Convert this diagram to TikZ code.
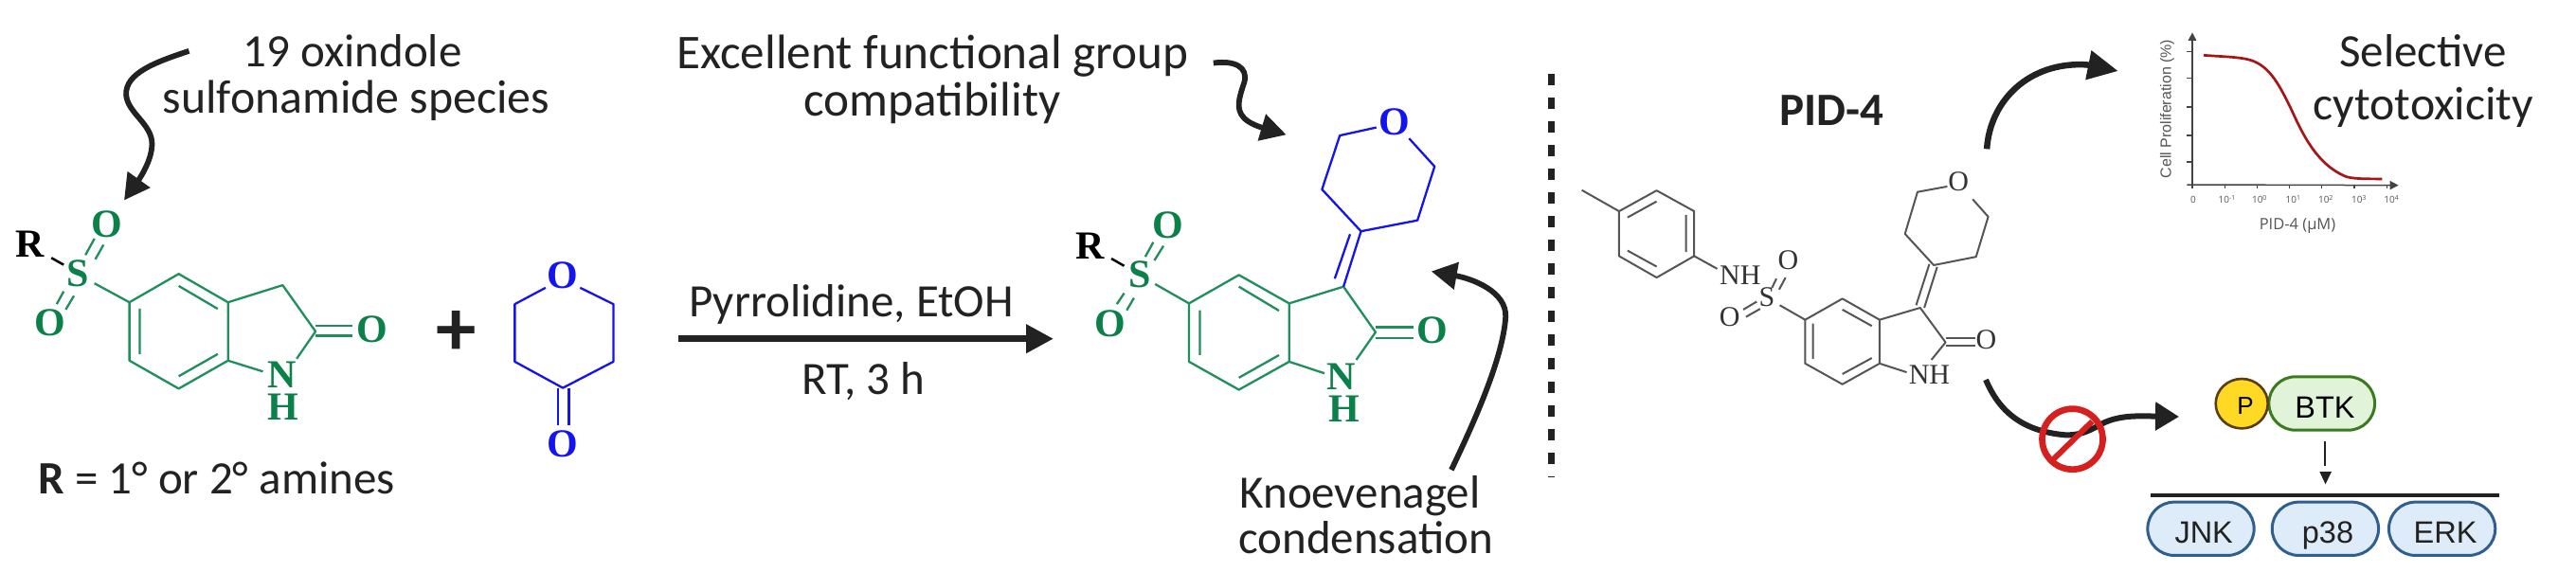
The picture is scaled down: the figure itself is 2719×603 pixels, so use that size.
\documentclass[tikz,border=0pt]{standalone}
\usepackage{fontspec}
\usetikzlibrary{arrows.meta,shapes.geometric}
\setmainfont{Carlito}
\newfontfamily\atomfont{Liberation Serif}
\newfontfamily\plotfont{Liberation Sans}
\newfontfamily\axisfont{Open Sans}
\definecolor{ink}{HTML}{222222}
\definecolor{molgreen}{HTML}{1F8F5C}
\definecolor{atomgreen}{HTML}{0B8048}
\definecolor{molblue}{HTML}{1414EE}
\definecolor{molgray}{HTML}{555555}
\definecolor{atomgray}{HTML}{333333}
\definecolor{plotgray}{HTML}{444444}
\definecolor{labelgray}{HTML}{555555}
\definecolor{curvered}{HTML}{A81518}
\definecolor{stopred}{HTML}{D61F1F}
\definecolor{HTMLpill}{HTML}{2F5F8F}
\definecolor{HTMLpillfill}{HTML}{DEEBF9}
\definecolor{btkline}{HTML}{3B7A1E}
\definecolor{btkfill}{HTML}{E1F4D9}
\definecolor{pline}{HTML}{5A3D10}
\definecolor{pfill}{HTML}{FFD924}
\tikzset{
  cropa/.style={shift={(0,0)},x=0.43365pt,y=-0.3846pt},
  cropc/.style={shift={(1600,0)},x=0.35714pt,y=-0.3846pt},
  cropd/.style={shift={(2080,0)},x=0.4075pt,y=-0.33333pt},
  crope/.style={shift={(2080,300)},x=0.4075pt,y=-0.33333pt},
  cropf/.style={shift={(1100,0)},x=0.3846pt,y=-0.3846pt},
  zoomplot/.style={shift={(2280,0)},x=0.33333pt,y=-0.33333pt},
  zoomstop/.style={shift={(2080,380)},x=0.33333pt,y=-0.33333pt},
  noteline/.style={font=\fontsize{49}{49}\selectfont,text=ink,inner sep=0pt,anchor=base},
  notewide/.style={font=\fontsize{51.2}{51.2}\selectfont,text=ink,inner sep=0pt,anchor=base},
  pointer/.style={draw=ink,line width=5.8pt,-{Triangle[length=27pt,width=28pt]}},
  greenbond/.style={draw=molgreen,line width=2.3pt,line join=round},
  bluebond/.style={draw=molblue,line width=2.3pt,line join=round},
  graybond/.style={draw=molgray,line width=2pt,line join=round},
  atomg/.style={font=\fontsize{42}{42}\selectfont\atomfont\bfseries,text=atomgreen,inner sep=0pt},
  atomb/.style={font=\fontsize{42}{42}\selectfont\atomfont\bfseries,text=molblue,inner sep=0pt},
  atomk/.style={font=\fontsize{42}{42}\selectfont\atomfont\bfseries,text=black,inner sep=0pt},
  atomy/.style={font=\fontsize{30}{30}\selectfont\atomfont,text=atomgray,inner sep=0pt},
  axisline/.style={draw=plotgray,line width=1.5pt},
  ticklabel/.style={font=\fontsize{10}{10}\selectfont\axisfont,text=labelgray,inner sep=0pt},
  pillblue/.style={draw=HTMLpill,fill=HTMLpillfill,line width=3pt,minimum width=112.3pt,minimum height=56.3pt,rounded corners=28pt,inner sep=0pt,font=\fontsize{32.5}{32.5}\selectfont\plotfont,text=ink,text height=31pt,text depth=0pt},
}
\begin{document}
\begin{tikzpicture}[x=1pt,y=-1pt]
\useasboundingbox (0,0) rectangle (2719,603);
\fill[white] (0,0) rectangle (2719,603);

% ---------- texts
\node[noteline] (noteA) at (372,70) {19 oxindole};
\node[noteline,font=\fontsize{49.8}{49.8}\selectfont] (noteAb) at (376,119) {sulfonamide species};
\node[notewide] (noteB) at (984.5,72) {Excellent functional group};
\node[notewide] (noteBb) at (984,122) {compatibility};
\node[noteline] (cond) at (898.6,334) {Pyrrolidine, EtOH};
\node[noteline] (time) at (911,416.5) {RT, 3 h};
\node[noteline] (rgroup) at (228.5,521) {\textbf{R} = 1° or 2° amines};
\node[noteline] (noteC) at (1435.5,536) {Knoevenagel};
\node[noteline] (noteCb) at (1441.6,584.6) {condensation};
\node[noteline] (pid) at (1933,132.7) {\textbf{PID-4}};
\node[noteline] (noteD) at (2557.7,70) {Selective};
\node[noteline,font=\fontsize{49.8}{49.8}\selectfont] (noteDb) at (2557.7,126.7) {cytotoxicity};

% ---------- plus and reaction arrow
\node[font=\fontsize{85}{85}\selectfont\bfseries,text=ink,inner sep=0pt] (plus) at (481.8,351.8) {+};
\coordinate (rxnA) at (715.6,357.7);
\coordinate (rxnB) at (1112,357.7);
\draw[draw=ink,line width=7pt,-{Triangle[length=29pt,width=29pt]}] (rxnA) -- (rxnB);

% ---------- starting oxindole
\begin{scope}[cropa]
\node[atomk] (r1) at (72,670) {R};
\node[atomg] (s1) at (190,752) {S};
\node[atomg] (o1a) at (260,615) {O};
\node[atomg] (o1b) at (122,885) {O};
\node[atomg] (o1c) at (905,905) {O};
\node[atomg] (n1) at (686,1030) {N};
\node[atomg] (h1) at (688,1118) {H};
\draw[draw=black,line width=2.5pt] (125,708) -- (155,727);
\draw[greenbond] (230,778) -- (315,830) -- (435,752) -- (555,830) -- (555,990) -- (435,1067) -- (315,990) -- (315,830);
\draw[greenbond] (340,847) -- (340,972) (435,785) -- (530,848) (435,1033) -- (530,972);
\draw[greenbond] (555,830) -- (688,783) -- (768,910) -- (722,985) (555,990) -- (640,1020);
\draw[greenbond] (768,895) -- (858,895) (768,922) -- (858,922);
\draw[greenbond] (208,700) -- (230,655) (232,712) -- (252,672) (138,835) -- (155,800) (160,850) -- (180,812);
\coordinate (arrA1) at (460,140);
\coordinate (arrA2) at (302,550);
\draw[pointer] (arrA1) .. controls (380,170) and (305,200) .. (307,260) .. controls (310,310) and (370,340) .. (370,395) .. controls (370,440) and (340,490) .. (arrA2);
% oxanone
\node[atomb] (o2a) at (1370,757) {O};
\node[atomb] (o2b) at (1370,1220) {O};
\draw[bluebond] (1412,790) -- (1493,835) -- (1493,993) -- (1370,1065) -- (1253,993) -- (1253,835) -- (1328,790);
\draw[bluebond] (1358,1065) -- (1358,1168) (1385,1065) -- (1385,1168);
\end{scope}

% ---------- product
\begin{scope}[cropf]
\node[atomk] (r3) at (132,675) {R};
\node[atomg] (s3) at (268,753) {S};
\node[atomg] (o3a) at (345,618) {O};
\node[atomg] (o3b) at (188,888) {O};
\node[atomg] (o3c) at (1072,908) {O};
\node[atomg] (n3) at (822,1033) {N};
\node[atomg] (h3) at (828,1122) {H};
\node[atomb] (o3d) at (968,335) {O};
\draw[draw=black,line width=2.5pt] (190,710) -- (225,730);
\draw[greenbond] (310,780) -- (403,833) -- (540,755) -- (678,833) -- (678,993) -- (540,1070) -- (403,993) -- (403,833);
\draw[greenbond] (433,852) -- (433,975) (540,787) -- (650,853) (540,1037) -- (650,975);
\draw[greenbond] (678,833) -- (827,787) -- (915,912) -- (862,988) (678,993) -- (775,1025);
\draw[greenbond] (915,898) -- (1018,898) (915,928) -- (1018,928);
\draw[greenbond] (283,705) -- (305,665) (308,715) -- (333,675) (205,835) -- (225,805) (232,852) -- (252,818);
\draw[bluebond] (827,787) -- (875,635) (803,765) -- (845,643);
\draw[bluebond] (917,350) -- (817,372) -- (768,520) -- (875,635) -- (1030,605) -- (1077,457) -- (1007,380);
\coordinate (arrB1) at (470,173);
\coordinate (arrB2) at (670,370);
\draw[pointer] (arrB1) .. controls (530,165) and (565,185) .. (555,225) .. controls (540,270) and (530,300) .. (555,325) .. controls (575,345) and (620,355) .. (arrB2);
\coordinate (arrC1) at (1123,1290);
\coordinate (arrC2) at (1068,745);
\draw[pointer] (arrC1) .. controls (1190,1150) and (1265,980) .. (1272,870) .. controls (1275,800) and (1180,765) .. (arrC2);
\end{scope}

% ---------- divider
\coordinate (divA) at (1637.6,78);
\coordinate (divB) at (1637.6,503.6);
\draw[draw=ink,line width=6.5pt,dash pattern=on 12.4pt off 12.6pt] (divA) -- (divB);

% ---------- PID-4
\begin{scope}[cropc]
\node[atomy] (ny) at (663,755) {NH};
\node[atomy] (sy) at (742,815) {S};
\node[atomy] (oya) at (805,713) {O};
\node[atomy] (oyb) at (632,870) {O};
\node[atomy] (oyc) at (1390,932) {O};
\node[atomy] (nh) at (1222,1028) {NH};
\node[atomy] (oyd) at (1308,498) {O};
\draw[graybond] (195,522) -- (305,580) -- (416,523) -- (527,580) -- (527,703) -- (416,762) -- (305,703) -- (305,580);
\draw[graybond] (330,597) -- (416,553) (503,590) -- (503,692) (330,688) -- (416,732);
\draw[graybond] (527,703) -- (595,738);
\draw[graybond] (757,790) -- (770,765) (778,795) -- (797,762) (672,850) -- (712,828) (680,870) -- (722,848);
\draw[graybond] (780,838) -- (855,878) -- (965,820) -- (1075,878) -- (1075,998) -- (965,1055) -- (855,998) -- (855,878);
\draw[graybond] (878,888) -- (878,985) (965,850) -- (1052,895) (965,1027) -- (1052,983);
\draw[graybond] (1075,878) -- (1195,845) -- (1270,940) -- (1228,988) (1075,998) -- (1155,1022);
\draw[graybond] (1270,928) -- (1358,928) (1270,948) -- (1358,948);
\draw[graybond] (1183,838) -- (1222,725) (1207,845) -- (1245,733);
\draw[graybond] (1275,512) -- (1187,527) -- (1150,642) -- (1235,728) -- (1360,705) -- (1396,595) -- (1350,547);
\end{scope}

% ---------- dose response plot
\begin{scope}[zoomplot]
\coordinate (yO) at (102,585);
\coordinate (yT) at (102,103);
\coordinate (xO) at (85,585);
\coordinate (xT) at (755,587);
\draw[axisline,-{Triangle[length=8.5pt,width=8.5pt]}] (yO) -- (yT);
\draw[axisline,-{Triangle[length=9pt,width=9pt]}] (xO) -- (xT);
\foreach \t in {163,248,339,429,513} \draw[axisline] (85,\t) -- (102,\t);
\foreach \t in {102,205,308,410,512,615,718} \draw[axisline] (\t,585) -- (\t,598);
\node[rotate=90,font=\fontsize{16}{16}\selectfont\plotfont,text=labelgray,inner sep=0pt] (ylab) at (22,345) {Cell Proliferation (\%)};
\node[font=\fontsize{16.5}{16.5}\selectfont\axisfont,text=labelgray,inner sep=0pt] (xlab) at (435,715) {PID-4 (µM)};
\node[ticklabel] (t0) at (105,632) {0};
\node[ticklabel] (t1) at (212,632) {10\textsuperscript{-1}};
\node[ticklabel] (t2) at (315,632) {10\textsuperscript{0}};
\node[ticklabel] (t3) at (422,632) {10\textsuperscript{1}};
\node[ticklabel] (t4) at (525,632) {10\textsuperscript{2}};
\node[ticklabel] (t5) at (630,632) {10\textsuperscript{3}};
\node[ticklabel] (t6) at (733,632) {10\textsuperscript{4}};
\draw[draw=curvered,line width=2.7pt] (138,175) .. controls (190,179) and (250,180) .. (285,190) .. controls (345,208) and (375,265) .. (410,335) .. controls (445,410) and (490,520) .. (590,560) .. controls (620,568) and (660,566) .. (703,567);
\end{scope}
\begin{scope}[cropd]
\coordinate (arrD1) at (42,472);
\coordinate (arrD2) at (382,225);
\draw[pointer,line width=6.5pt,-{Triangle[length=32pt,width=30pt]}] (arrD1) .. controls (50,320) and (150,195) .. (300,205) -- (arrD2);
\end{scope}

% ---------- BTK pathway
\node[draw=btkline,fill=btkfill,line width=3pt,minimum width=111.7pt,minimum height=56.4pt,rounded corners=28pt,inner sep=0pt,font=\fontsize{32.5}{32.5}\selectfont\plotfont,text=black,text height=31.4pt,text depth=0pt] (btk) at (2450.7,426) {\hspace*{6.6pt}BTK};
\node[draw=pline,fill=pfill,line width=2.6pt,ellipse,minimum width=55pt,minimum height=52.4pt,inner sep=0pt,font=\fontsize{26}{26}\selectfont\plotfont,text=black,text height=21.6pt,text depth=0pt] (pcircle) at (2366.2,426.2) {\hspace*{7.6pt}P};
\node[pillblue] (jnk) at (2323,558.3) {\hspace*{6.4pt}JNK};
\node[pillblue] (p38) at (2454.4,558.3) {\hspace*{5.2pt}p38};
\node[pillblue] (erk) at (2577.6,558.3) {\hspace*{7pt}ERK};
\coordinate (barA) at (2269.5,523);
\coordinate (barB) at (2637.5,523);
\draw[draw=ink,line width=3.4pt] (barA) -- (barB);
\coordinate (dnA) at (2454.3,466.3);
\coordinate (dnB) at (2454.3,492);
\draw[draw=ink,line width=2.3pt] (dnA) -- (dnB);
\fill[ink] (2448.3,498) -- (2461,498) -- (2454.5,511.3) -- cycle;
\begin{scope}[zoomstop]
\coordinate (arrE1) at (48,63);
\coordinate (arrE2) at (660,180);
\draw[pointer,line width=6pt,-{Triangle[length=25pt,width=29pt]}] (arrE1) .. controls (85,150) and (150,225) .. (300,238) .. controls (370,240) and (400,205) .. (440,192) .. controls (490,175) and (540,178) .. (arrE2);
\coordinate (stopc) at (322.5,251);
\draw[draw=stopred,line width=6.7pt] (stopc) circle [radius=32pt];
\draw[draw=stopred,line width=6pt] (262,315) -- (385,195);
\end{scope}
\end{tikzpicture}
\end{document}
